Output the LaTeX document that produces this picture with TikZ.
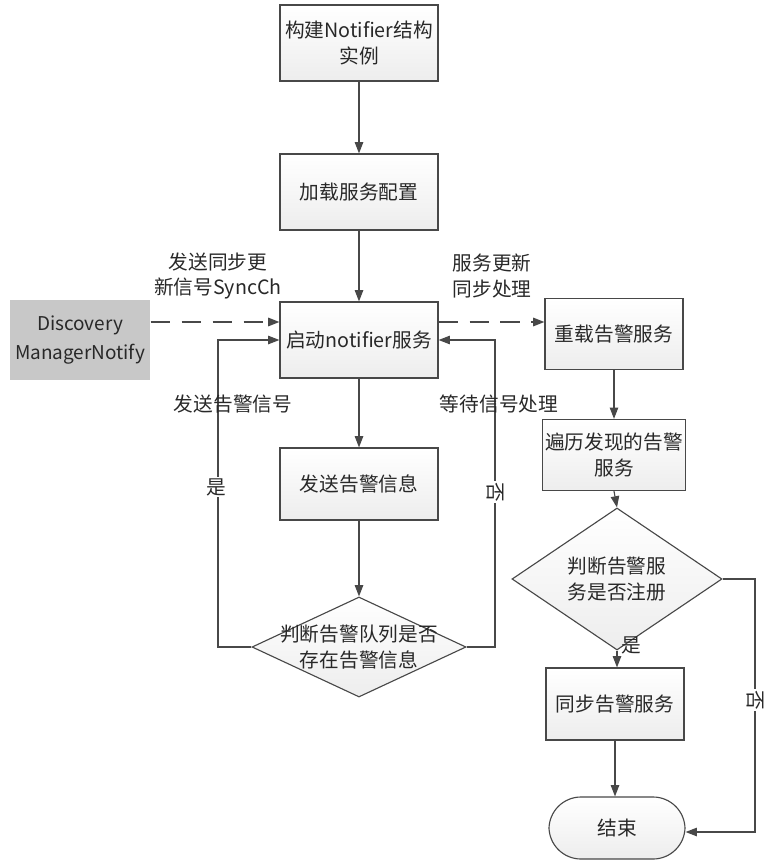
\documentclass[tikz,border=0pt]{standalone}
\usepackage{fontspec}
\setmainfont{Noto Sans CJK SC}
\usepackage{tikz}
\usetikzlibrary{shapes.geometric, arrows.meta, positioning, calc}
\definecolor{flowline}{RGB}{72,72,72}
\definecolor{flowtext}{RGB}{40,40,40}
\definecolor{discfill}{RGB}{200,200,200}

\begin{document}
\begin{tikzpicture}[
  x=0.025cm, y=-0.025cm,
  every node/.style={font=\fontsize{14}{18}\selectfont, text=flowtext},
  proc/.style={rectangle, draw=flowline, top color=white, bottom color=gray!14,
               minimum width=3.95cm, minimum height=1.9cm, align=center,
               line width=0.8pt, inner sep=2pt},
  sproc/.style={proc, minimum width=3.45cm, minimum height=1.78cm},
  decide/.style={diamond, draw=flowline, top color=white, bottom color=gray!14,
                 inner sep=0pt, align=center, line width=0.8pt},
  term/.style={rectangle, rounded corners=0.8cm, draw=flowline, top color=white,
               bottom color=gray!14, minimum width=3.4cm, minimum height=1.55cm,
               line width=0.8pt},
  ext/.style={rectangle, fill=discfill, minimum width=3.52cm, minimum height=2.0cm,
              align=center, inner sep=0pt, font=\fontsize{13.5}{20}\selectfont},
  note/.style={align=center, inner sep=1pt},
  flow/.style={-{Triangle[length=8pt,width=6pt]}, line width=0.8pt, color=flowline},
  sig/.style={flow, dashed, dash pattern=on 14pt off 8pt, line width=1.1pt}
]
\useasboundingbox (0,0) rectangle (775,867);

% ── Main column ──────────────────────────────────────────────────────────
\node[proc] (build) at (359, 43)  {构建Notifier结构\\实例};
\node[proc] (load)  at (359, 192) {加载服务配置};
\node[proc] (start) at (359, 340) {启动notifier服务};
\node[proc, minimum height=1.8cm] (send) at (359, 484) {发送告警信息};
\node[decide, minimum width=5.35cm, minimum height=2.5cm] (qchk) at (359, 647)
      {\makebox[0pt]{判断告警队列是否}\\\makebox[0pt]{存在告警信息}};

% ── Left: discovery source ───────────────────────────────────────────────
\node[ext] (disc) at (80, 340) {Discovery\\ManagerNotify};

% ── Right column ─────────────────────────────────────────────────────────
\node[sproc] (reload) at (614, 334) {重载告警服务};
\node[sproc] (trav)   at (614, 455) {遍历发现的告警\\服务};
\node[decide, minimum width=5.25cm, minimum height=2.45cm] (rchk) at (617, 579)
      {判断告警服\\务是否注册};
\node[sproc, minimum height=1.8cm] (sync) at (615, 704) {同步告警服务};
\node[term] (fin) at (617, 828) {结束};

% ── Helper points ────────────────────────────────────────────────────────
\coordinate (dsync) at (0, 322);
\coordinate (lloop) at (218, 340);
\coordinate (rloop) at (495, 340);
\coordinate (rside) at (755, 832);

% ── Arrows: main column ──────────────────────────────────────────────────
\draw[flow] (build.south) -- (load.north);
\draw[flow] (load.south)  -- (start.north);
\draw[flow] (start.south) -- (send.north);
\draw[flow] (send.south)  -- (qchk.north);
\draw[flow] (qchk.west) -| (lloop) -- (start.west);
\draw[flow] (qchk.east) -| (rloop) -- (start.east);

% ── Arrows: signals (dashed) ─────────────────────────────────────────────
\draw[sig] (disc.east |- dsync)  -- (start.west |- dsync);
\draw[sig] (start.east |- dsync) -- (reload.west |- dsync);

% ── Arrows: right column ─────────────────────────────────────────────────
\draw[flow] (reload.south) -- (trav.north);
\draw[flow] (trav.south)   -- (rchk.north);
\draw[flow] (rchk.south)   -- (rchk.south |- sync.north);
\draw[flow] (sync.south)   -- (sync.south |- fin.north);
\draw[flow] (rchk.east) -| (rside) -- (fin.east |- rside);

% ── Labels ───────────────────────────────────────────────────────────────
\node[note] (lsync)  at (218, 276) {发送同步更\\新信号SyncCh};
\node[note] (lupd)   at (492, 276) {服务更新\\同步处理};
\node[note] (lsend)  at (233, 404) {发送告警信号};
\node[note] (lwait)  at (499, 404) {等待信号处理};
\node[note, fill=white] (lyes)  at (216, 487) {是};
\node[note, fill=white, rotate=-90] (lno) at (495, 492) {否};
\node[note] (ryes)   at (631, 645) {是};
\node[note, fill=white, rotate=-90] (rno) at (755, 700) {否};

\end{tikzpicture}
\end{document}
